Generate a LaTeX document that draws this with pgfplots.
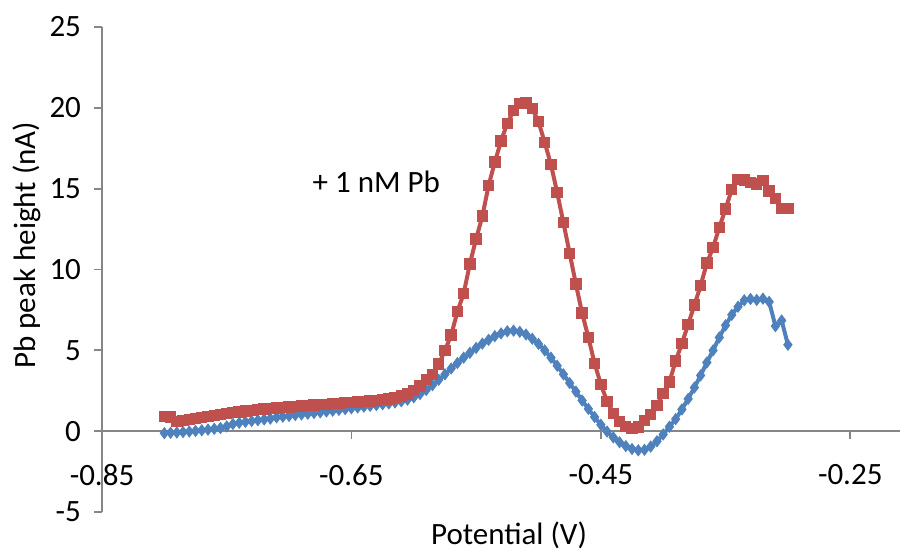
\documentclass[border=0pt]{standalone}
\usepackage{fontspec}
\setmainfont{Carlito}
\usepackage{pgfplots}
\pgfplotsset{compat=1.18}
\definecolor{XBlue}{HTML}{4F81BD}
\definecolor{XRed}{HTML}{C0504D}
\definecolor{XAxis}{HTML}{868686}

\pgfplotstableread{
x y
-0.800 -0.12
-0.795 -0.10
-0.790 -0.08
-0.785 -0.05
-0.780 -0.02
-0.775 0.02
-0.770 0.06
-0.765 0.10
-0.760 0.15
-0.755 0.20
-0.750 0.30
-0.745 0.45
-0.740 0.52
-0.735 0.58
-0.730 0.63
-0.725 0.68
-0.720 0.73
-0.715 0.78
-0.710 0.86
-0.705 0.90
-0.700 0.95
-0.695 1.00
-0.690 1.04
-0.685 1.08
-0.680 1.13
-0.675 1.17
-0.670 1.22
-0.665 1.27
-0.660 1.32
-0.655 1.37
-0.650 1.42
-0.645 1.47
-0.640 1.52
-0.635 1.57
-0.630 1.62
-0.625 1.67
-0.620 1.72
-0.615 1.78
-0.610 1.85
-0.605 1.95
-0.600 2.10
-0.595 2.30
-0.590 2.55
-0.585 2.85
-0.580 3.18
-0.575 3.52
-0.570 3.88
-0.565 4.22
-0.560 4.55
-0.555 4.85
-0.550 5.15
-0.545 5.42
-0.540 5.65
-0.535 5.88
-0.530 6.05
-0.525 6.18
-0.520 6.22
-0.515 6.15
-0.510 5.98
-0.505 5.72
-0.500 5.40
-0.495 5.00
-0.490 4.55
-0.485 4.05
-0.480 3.52
-0.475 2.98
-0.470 2.45
-0.465 1.90
-0.460 1.38
-0.455 0.88
-0.450 0.40
-0.445 -0.02
-0.440 -0.38
-0.435 -0.68
-0.430 -0.92
-0.425 -1.10
-0.420 -1.18
-0.415 -1.15
-0.410 -0.95
-0.405 -0.62
-0.400 -0.20
-0.395 0.28
-0.390 0.75
-0.385 1.35
-0.380 2.00
-0.375 2.70
-0.370 3.45
-0.365 4.25
-0.360 5.00
-0.355 5.80
-0.350 6.55
-0.345 7.20
-0.340 7.70
-0.335 8.10
-0.330 8.18
-0.325 8.12
-0.320 8.20
-0.315 8.00
-0.310 6.50
-0.305 6.85
-0.300 5.35
}\blank

\pgfplotstableread{
x y
-0.800 0.90
-0.795 0.88
-0.790 0.60
-0.785 0.65
-0.780 0.72
-0.775 0.78
-0.770 0.84
-0.765 0.90
-0.760 0.98
-0.755 1.05
-0.750 1.10
-0.745 1.16
-0.740 1.20
-0.735 1.25
-0.730 1.29
-0.725 1.33
-0.720 1.37
-0.715 1.40
-0.710 1.43
-0.705 1.46
-0.700 1.49
-0.695 1.52
-0.690 1.55
-0.685 1.58
-0.680 1.61
-0.675 1.64
-0.670 1.67
-0.665 1.70
-0.660 1.73
-0.655 1.76
-0.650 1.79
-0.645 1.82
-0.640 1.85
-0.635 1.88
-0.630 1.91
-0.625 1.95
-0.620 2.00
-0.615 2.07
-0.610 2.18
-0.605 2.30
-0.600 2.52
-0.595 2.80
-0.590 3.20
-0.585 3.50
-0.580 4.15
-0.575 5.00
-0.570 5.95
-0.565 7.40
-0.560 8.52
-0.555 10.35
-0.550 11.90
-0.545 13.30
-0.540 15.20
-0.535 16.65
-0.530 17.95
-0.525 19.05
-0.520 19.82
-0.515 20.27
-0.510 20.30
-0.505 19.95
-0.500 19.15
-0.495 17.85
-0.490 16.50
-0.485 14.75
-0.480 12.90
-0.475 11.00
-0.470 9.10
-0.465 7.30
-0.460 5.80
-0.455 4.20
-0.450 2.90
-0.445 1.85
-0.440 1.10
-0.435 0.60
-0.430 0.28
-0.425 0.18
-0.420 0.27
-0.415 0.68
-0.410 1.05
-0.405 1.60
-0.400 2.33
-0.395 3.05
-0.390 4.35
-0.385 5.43
-0.380 6.60
-0.375 7.80
-0.370 9.00
-0.365 10.40
-0.360 11.37
-0.355 12.60
-0.350 13.75
-0.345 14.95
-0.340 15.57
-0.335 15.53
-0.330 15.40
-0.325 15.28
-0.320 15.50
-0.315 14.85
-0.310 14.40
-0.305 13.78
-0.300 13.78
}\spiked

\begin{document}
\begin{tikzpicture}
  \begin{axis}[
    scale only axis,
    width=399pt,height=242.5pt,
    xmin=-0.85,xmax=-0.21,ymin=-5,ymax=25,
    axis x line=middle,axis y line=left,
    x axis line style={-},y axis line style={-},
    axis line style={XAxis,line width=0.9pt},
    tick style={XAxis,line width=0.9pt},
    tick align=outside,
    major tick length=4pt,
    hide obscured x ticks=false,hide obscured y ticks=false,
    xtick={-0.85,-0.65,-0.45,-0.25},
    xticklabels={-0.85,-0.65,-0.45,-0.25},
    ytick={-5,0,5,10,15,20,25},
    yticklabels={-5,0,5,10,15,20,25},
    tick label style={font=\fontsize{15.5}{18}\selectfont,text=black},
    xticklabel style={yshift=-9pt},
    yticklabel style={xshift=-3pt},
    xlabel={Potential (V)},
    ylabel={Pb peak height (nA)},
    label style={font=\fontsize{15.5}{18}\selectfont},
    xlabel style={at={(axis description cs:0.51,-0.047)},anchor=center},
    ylabel style={at={(axis description cs:-0.094,0.55)},anchor=center,rotate=0},
    clip=false,
  ]
    \addplot[XBlue,line width=2pt,mark=diamond*,mark size=2.7pt,
      mark options={solid,fill=XBlue,draw=XBlue,line width=0.5pt}] table {\blank};
    \addplot[XRed,line width=2pt,mark=square*,mark size=2.6pt,
      mark options={solid,fill=XRed,draw=XRed,line width=0.5pt}] table {\spiked};
    \node[font=\fontsize{15.5}{18}\selectfont] at (axis cs:-0.630,15.4) {+ 1 nM Pb};
    \coordinate (bl) at (axis cs:-0.9318,-7.30);
    \coordinate (tr) at (axis cs:-0.2093,26.67);
  \end{axis}
  \pgfresetboundingbox
  \path[use as bounding box] (bl) rectangle (tr);
\end{tikzpicture}
\end{document}
